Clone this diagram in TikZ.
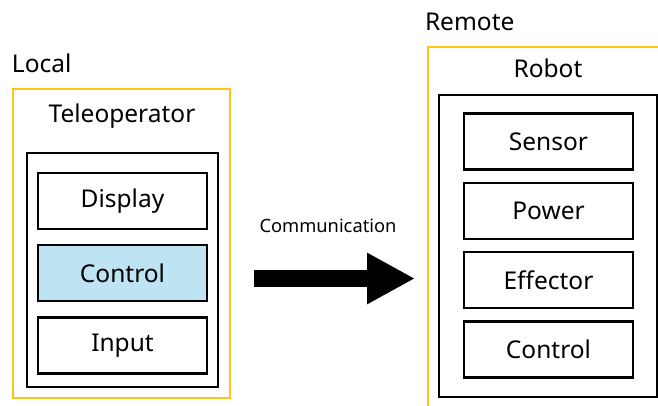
\documentclass[tikz,border=0pt]{standalone}
\usepackage{fontspec}
\setmainfont{Noto Sans}
\usetikzlibrary{positioning,arrows.meta}

\definecolor{sitegold}{RGB}{255,196,20}
\definecolor{ctrlblue}{RGB}{190,227,242}

\tikzset{every picture/.style={line width=2pt}}
\tikzset{
  site/.style={draw=sitegold, line width=2pt},
  unitbox/.style={draw=black, line width=2.3pt},
  partbox/.style={draw=black, line width=2.3pt, minimum width=169pt, minimum height=56pt,
                  font=\fontsize{24.5}{28}\selectfont},
  biglabel/.style={inner sep=0pt, font=\fontsize{24.5}{28}\selectfont}
}

\begin{document}
\begin{tikzpicture}[x=1pt, y=1pt, yscale=-1, xscale=1]

    \clip (0,0) rectangle (658,405);

    % Local side
    \node [biglabel, anchor=west] (localtxt) at (11,63) {Local};
    \node [site, minimum width=217pt, minimum height=309pt] (localsite) at (121.5,243.5) {};
    \node [biglabel] (teletxt) at (122,116) {Teleoperator};
    \node [unitbox, minimum width=191pt, minimum height=234pt] (tele) at (122.5,270) {};

    \node [partbox] (display) at (122.5,201) {Display};
    \node [partbox, fill=ctrlblue, below=14pt of display] (lctrl) {Control};
    \node [partbox, below=14pt of lctrl] (input) {Input};

    % Remote side (runs past the page edge)
    \node [biglabel, anchor=west] (remotetxt) at (424,22) {Remote};
    \node [site, anchor=north west, minimum width=260pt, minimum height=400pt] (remotesite) at (427,46) {};
    \node [biglabel] (robottxt) at (548,68) {Robot};
    \node [unitbox, minimum width=218pt, minimum height=302pt] (robot) at (548,246) {};

    \node [partbox] (sensor) at (548.5,141.5) {Sensor};
    \node [partbox, below=11pt of sensor] (power) {Power};
    \node [partbox, below=11pt of power] (effector) {Effector};
    \node [partbox, below=11pt of effector] (rctrl) {Control};

    % Link
    \coordinate (linkfrom) at (254,278.5);
    \coordinate (linkto) at (415,278.5);
    \draw [line width=17pt, -{Triangle[length=48pt, width=48pt]}] (linkfrom) -- (linkto);
    \node [inner sep=0pt, font=\fontsize{18.3}{21}\selectfont] (commtxt) at (328,226) {Communication};

\end{tikzpicture}
\end{document}
